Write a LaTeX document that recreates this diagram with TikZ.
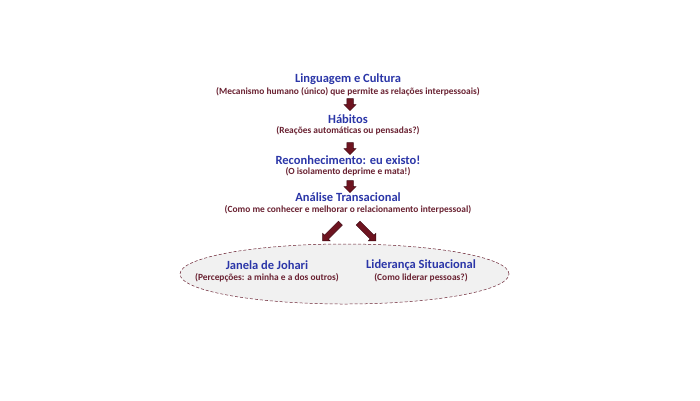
\documentclass[tikz,border=0pt]{standalone}
\usepackage{fontspec}
\setmainfont{Carlito}
\usetikzlibrary{shapes.arrows,shapes.geometric,calc}
\definecolor{titleblue}{HTML}{2B36A8}
\definecolor{subred}{HTML}{6A2232}
\definecolor{arrowfill}{HTML}{6E1420}
\definecolor{arrowline}{HTML}{3E0A14}
\definecolor{ellfill}{HTML}{F1F1F1}
\tikzset{
  ttl/.style={text=titleblue,font=\fontsize{12.5}{14}\selectfont\bfseries,inner sep=0pt,anchor=center},
  sub/.style={text=subred,font=\fontsize{9.4}{11}\selectfont\bfseries,inner sep=0pt,anchor=center},
  blockarrow/.style={single arrow,draw=arrowline,fill=arrowfill,line width=0.5pt,
    inner xsep=0pt,inner ysep=3pt,
    minimum width=11.5pt,minimum height=12pt,single arrow head extend=2.75pt,
    single arrow head indent=0pt},
  diagarrow/.style={blockarrow,inner ysep=2.5pt,minimum height=25pt,minimum width=10pt,single arrow head extend=2.5pt},
  cloud/.style={ellipse,draw=subred,densely dashed,line width=0.5pt,fill=ellfill,
    minimum width=329pt,minimum height=60pt,inner sep=0pt}
}
\begin{document}
\begin{tikzpicture}[x=1pt,y=-1pt]
\useasboundingbox[fill=white] (0,0) rectangle (700,400);
\node[cloud] (ell) at (344.5,274) {};
\node[ttl] (t1) at (348,79) {Linguagem e Cultura};
\node[sub] (s1) at (348,92) {(Mecanismo humano (único) que permite as relações interpessoais)};
\node[ttl] (t2) at (348,119) {Hábitos};
\node[sub] (s2) at (348,131) {(Reações automáticas ou pensadas?)};
\node[ttl] (t3) at (348,160) {Reconhecimento: eu existo!};
\node[sub] (s3) at (348,172) {(O isolamento deprime e mata!)};
\node[ttl] (t4) at (348,197) {Análise Transacional};
\node[sub] (s4) at (348,210) {(Como me conhecer e melhorar o relacionamento interpessoal)};
\node[blockarrow,rotate=-90] (a1) at (350,103) {};
\node[blockarrow,rotate=-90] (a2) at (350,147) {};
\node[blockarrow,rotate=-90] (a3) at (350,185) {};
\node[ttl] (j1) at (267,265) {Janela de Johari};
\node[sub] (j2) at (267,278) {(Percepções: a minha e a dos outros)};
\node[ttl] (l1) at (421,265) {Liderança Situacional};
\node[sub] (l2) at (421,278) {(Como liderar pessoas?)};
\node[diagarrow,rotate=-135] (d1) at (332.5,231) {};
\node[diagarrow,rotate=-45] (d2) at (366,231) {};
\end{tikzpicture}
\end{document}
